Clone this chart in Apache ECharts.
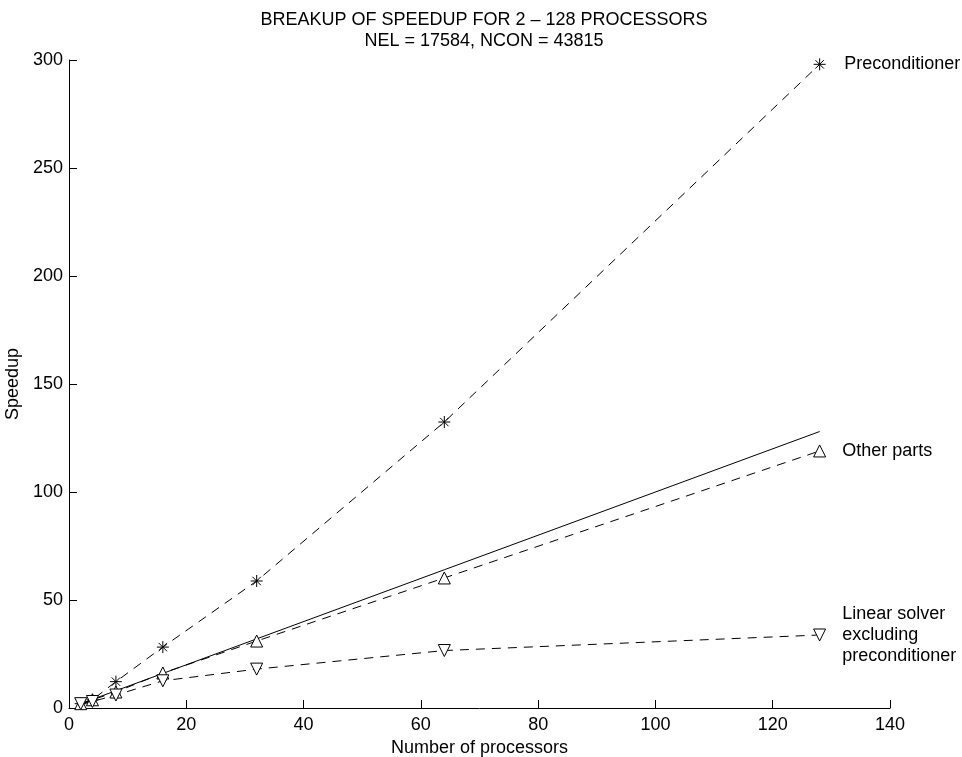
<!DOCTYPE html>
<html>
<head>
<meta charset="utf-8">
<title>Breakup of speedup</title>
<script src="https://cdn.jsdelivr.net/npm/echarts@6/dist/echarts.min.js"></script>
<style>
  html, body { margin: 0; padding: 0; background: #fff; }
  #chart1 { width: 962px; height: 757px; }
</style>
</head>
<body>
<div id="chart1"></div>
<script>
// processors
var procs = [2, 4, 8, 16, 32, 64, 128];
// speedup
var precondData = [2, 3.8, 12.2, 28.2, 58.8, 132.4, 298];
var otherData = [2, 3.8, 7.4, 16.2, 31, 60.2, 119];
var linearData = [2, 3, 6, 12.6, 18, 26.6, 33.8];
var idealData = [2, 4, 8, 16, 32, 64, 128];
var seriesNames = ['Preconditioner', 'Other parts', 'Linear solver\nexcluding\npreconditioner'];

var font = 'Liberation Sans, Arial, sans-serif';
var starPath = 'path://M0,-1L0,1M-1,0L1,0M-0.7,-0.7L0.7,0.7M-0.7,0.7L0.7,-0.7';

function pairs(ys, name) {
    var out = [];
    for (var i = 0; i < procs.length; i++) {
        out[i] = [procs[i], ys[i]];
    }
    if (name) {
        // label only on the last point
        out[out.length - 1] = {
            value: out[out.length - 1],
            label: {
                show: true, position: 'right', distance: 16,
                formatter: name, color: '#000',
                fontFamily: font, fontSize: 18, lineHeight: 21, align: 'left'
            }
        };
    }
    return out;
}

function dashed(name, ys, symbol, size, rotate) {
    return {
        name: name,
        type: 'line',
        data: pairs(ys, name),
        symbol: symbol,
        symbolSize: size,
        symbolRotate: rotate || 0,
        showAllSymbol: true,
        lineStyle: { color: '#000', width: 1, type: [9, 7] },
        itemStyle: { color: '#fff', borderColor: '#000', borderWidth: 1 },
        label: { show: false },
        emphasis: { disabled: true },
        animation: false
    };
}

var starSeries = dashed(seriesNames[0], precondData, starPath, 12);
starSeries.itemStyle = { color: 'none', borderColor: '#000', borderWidth: 1 };

var option1 = {
    backgroundColor: '#fff',
    title: {
        text: 'BREAKUP OF SPEEDUP FOR 2 \u2013 128 PROCESSORS\nNEL = 17584, NCON = 43815',
        left: 479, top: 5, textAlign: 'center',
        textStyle: { fontFamily: font, fontSize: 18, fontWeight: 'normal', color: '#000', lineHeight: 21 }
    },
    grid: { left: 69, right: 72, top: 60, bottom: 49, containLabel: false, outerBoundsMode: 'none' },
    xAxis: {
        type: 'value', min: 0, max: 140, interval: 20,
        name: 'Number of processors', nameLocation: 'middle', nameGap: 28,
        nameTextStyle: { fontFamily: font, fontSize: 18, color: '#000' },
        axisLine: { lineStyle: { color: '#000', width: 1 } },
        axisTick: { inside: true, length: 8, lineStyle: { color: '#000' } },
        axisLabel: { fontFamily: font, fontSize: 18, color: '#000', margin: 8 },
        splitLine: { show: false }
    },
    yAxis: {
        type: 'value', min: 0, max: 300, interval: 50,
        name: 'Speedup', nameLocation: 'middle', nameGap: 37,
        nameTextStyle: { fontFamily: font, fontSize: 18, color: '#000' },
        axisLine: { show: true, lineStyle: { color: '#000', width: 1 } },
        axisTick: { show: true, inside: true, length: 8, lineStyle: { color: '#000' } },
        axisLabel: { fontFamily: font, fontSize: 18, color: '#000', margin: 6 },
        splitLine: { show: false }
    },
    series: [
        {
            name: 'Ideal',
            type: 'line',
            data: pairs(idealData),
            symbol: 'none',
            lineStyle: { color: '#000', width: 1, type: 'solid' },
            emphasis: { disabled: true },
            animation: false
        },
        starSeries,
        dashed(seriesNames[1], otherData, 'triangle', 12),
        dashed(seriesNames[2], linearData, 'triangle', 12, 180)
    ]
};

echarts.init(document.getElementById('chart1')).setOption(option1);
</script>
</body>
</html>
